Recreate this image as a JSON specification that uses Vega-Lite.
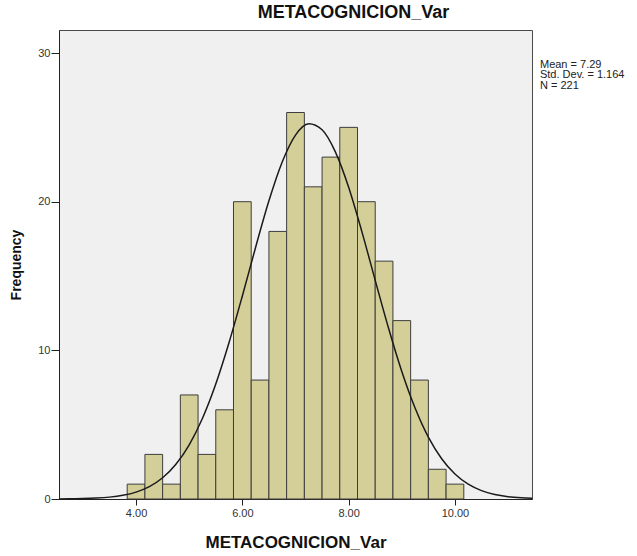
{
  "$schema": "https://vega.github.io/schema/vega-lite/v6.json",
  "autosize": {"type": "none"},
  "width": 473,
  "height": 469,
  "padding": {"left": 59, "top": 30, "right": 105, "bottom": 57},
  "background": "white",
  "config": {
    "font": "Liberation Sans",
    "view": {"fill": "#f0f0f0", "stroke": "#4a4a4a", "strokeWidth": 1},
    "axis": {"grid": false, "domainColor": "#222222", "tickColor": "#222222", "labelColor": "#333333", "labelFontSize": 11, "labelFont": "Liberation Sans", "titleFont": "Liberation Sans", "titleFontWeight": "bold", "titleColor": "#111111"}
  },
  "title": {"text": "METACOGNICION_Var", "fontSize": 18, "fontWeight": "bold", "color": "#111111", "anchor": "middle", "dx": 58, "offset": 8, "font": "Liberation Sans"},
  "datasets": {
    "bins": [
      {"bin_start": 3.8333, "bin_end": 4.1667, "count": 1},
      {"bin_start": 4.1667, "bin_end": 4.5, "count": 3},
      {"bin_start": 4.5, "bin_end": 4.8333, "count": 1},
      {"bin_start": 4.8333, "bin_end": 5.1667, "count": 7},
      {"bin_start": 5.1667, "bin_end": 5.5, "count": 3},
      {"bin_start": 5.5, "bin_end": 5.8333, "count": 6},
      {"bin_start": 5.8333, "bin_end": 6.1667, "count": 20},
      {"bin_start": 6.1667, "bin_end": 6.5, "count": 8},
      {"bin_start": 6.5, "bin_end": 6.8333, "count": 18},
      {"bin_start": 6.8333, "bin_end": 7.1667, "count": 26},
      {"bin_start": 7.1667, "bin_end": 7.5, "count": 21},
      {"bin_start": 7.5, "bin_end": 7.8333, "count": 23},
      {"bin_start": 7.8333, "bin_end": 8.1667, "count": 25},
      {"bin_start": 8.1667, "bin_end": 8.5, "count": 20},
      {"bin_start": 8.5, "bin_end": 8.8333, "count": 16},
      {"bin_start": 8.8333, "bin_end": 9.1667, "count": 12},
      {"bin_start": 9.1667, "bin_end": 9.5, "count": 8},
      {"bin_start": 9.5, "bin_end": 9.8333, "count": 2},
      {"bin_start": 9.8333, "bin_end": 10.1667, "count": 1}
    ],
    "curve": [
      {"x": 2.55, "y": 0.006},
      {"x": 2.75, "y": 0.013},
      {"x": 3.0, "y": 0.028},
      {"x": 3.25, "y": 0.061},
      {"x": 3.5, "y": 0.126},
      {"x": 3.75, "y": 0.248},
      {"x": 4.0, "y": 0.465},
      {"x": 4.25, "y": 0.834},
      {"x": 4.5, "y": 1.428},
      {"x": 4.75, "y": 2.335},
      {"x": 5.0, "y": 3.646},
      {"x": 5.25, "y": 5.437},
      {"x": 5.5, "y": 7.742},
      {"x": 5.75, "y": 10.53},
      {"x": 6.0, "y": 13.66},
      {"x": 6.25, "y": 16.94},
      {"x": 6.5, "y": 20.06},
      {"x": 6.75, "y": 22.67},
      {"x": 7.0, "y": 24.48},
      {"x": 7.25, "y": 25.24},
      {"x": 7.5, "y": 24.84},
      {"x": 7.75, "y": 23.35},
      {"x": 8.0, "y": 20.97},
      {"x": 8.25, "y": 17.97},
      {"x": 8.5, "y": 14.71},
      {"x": 8.75, "y": 11.5},
      {"x": 9.0, "y": 8.58},
      {"x": 9.25, "y": 6.12},
      {"x": 9.5, "y": 4.16},
      {"x": 9.75, "y": 2.707},
      {"x": 10.0, "y": 1.68},
      {"x": 10.25, "y": 0.996},
      {"x": 10.5, "y": 0.563},
      {"x": 10.75, "y": 0.304},
      {"x": 11.0, "y": 0.157},
      {"x": 11.25, "y": 0.077},
      {"x": 11.45, "y": 0.043}
    ],
    "stats": [{"stat": "summary"}]
  },
  "layer": [
    {
      "data": {"name": "bins"},
      "mark": {"type": "rect", "fill": "#d4cf98", "stroke": "#3d3d3d", "strokeWidth": 1},
      "encoding": {
        "x": {"field": "bin_start", "type": "quantitative", "scale": {"domain": [2.55, 11.45], "nice": false, "zero": false},
          "axis": {"values": [4, 6, 8, 10], "format": ".2f", "title": "METACOGNICION_Var", "titleFontSize": 17, "tickSize": 6, "labelPadding": 2, "titlePadding": 16}},
        "x2": {"field": "bin_end"},
        "y": {"field": "count", "type": "quantitative", "scale": {"domain": [0, 31.55], "nice": false},
          "axis": {"values": [0, 10, 20, 30], "format": "d", "title": "Frequency", "titleFontSize": 14, "tickSize": 8, "labelPadding": 1, "titlePadding": 14}},
        "y2": {"datum": 0}
      }
    },
    {
      "data": {"name": "curve"},
      "mark": {"type": "line", "color": "#1a1a1a", "strokeWidth": 1.5, "interpolate": "monotone"},
      "encoding": {
        "x": {"field": "x", "type": "quantitative"},
        "y": {"field": "y", "type": "quantitative"}
      }
    },
    {
      "data": {"name": "stats"},
      "mark": {"type": "text", "align": "left", "baseline": "top", "fontSize": 11, "lineHeight": 10.5, "color": "#222222", "clip": false},
      "encoding": {
        "x": {"datum": 11.6},
        "y": {"datum": 29.6},
        "text": {"value": ["Mean = 7.29", "Std. Dev. = 1.164", "N = 221"]}
      }
    }
  ]
}
